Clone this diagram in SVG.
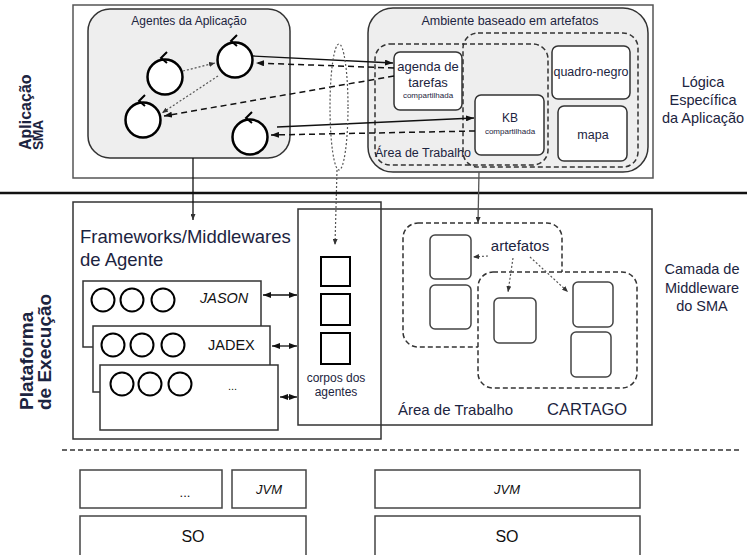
<svg xmlns="http://www.w3.org/2000/svg" width="747" height="555" viewBox="0 0 747 555">
<defs>
<marker id="ah" markerWidth="8" markerHeight="6" refX="8" refY="3" orient="auto" markerUnits="userSpaceOnUse"><path d="M0,0 L8,3 L0,6 z" fill="#111"/></marker>
<marker id="ah2" markerWidth="8" markerHeight="6" refX="8" refY="3" orient="auto-start-reverse" markerUnits="userSpaceOnUse"><path d="M0,0 L8,3 L0,6 z" fill="#111"/></marker>
<marker id="ahg" markerWidth="6" markerHeight="5" refX="6" refY="2.5" orient="auto" markerUnits="userSpaceOnUse"><path d="M0,0 L6,2.5 L0,5 z" fill="#333"/></marker>
</defs>
<style>
.t{font-family:"Liberation Sans",Arial,sans-serif;fill:#1c2440}
.k{fill:#111}
.c{text-anchor:middle}
.b{font-weight:bold}
.i{font-style:italic}
.box{fill:#fff;stroke:#333;stroke-width:1.5}
.frame{fill:none;stroke:#333;stroke-width:1.5}
.grp{fill:#eee;stroke:#333;stroke-width:1.5}
.dash{fill:none;stroke:#333;stroke-width:1.5;stroke-dasharray:5 3}
.ag{fill:#fff;stroke:#000;stroke-width:2.5}
.chev{fill:none;stroke:#000;stroke-width:2}
.sm{fill:#fff;stroke:#000;stroke-width:2}
.art{fill:#fff;stroke:#444;stroke-width:1.5}
.sol{stroke:#111;stroke-width:1.3;fill:none}
.dsh{stroke:#111;stroke-width:1.5;stroke-dasharray:6 4;fill:none}
.dot{stroke:#555;stroke-width:1.2;stroke-dasharray:2 2;fill:none}
.base{fill:#fff;stroke:#444;stroke-width:1.5}
</style>

<!-- layer separators -->
<line x1="0" y1="193" x2="747" y2="193" stroke="#111" stroke-width="2.5"/>
<line x1="62" y1="450" x2="740" y2="450" stroke="#333" stroke-width="1.5" stroke-dasharray="5 3"/>

<!-- side labels -->
<g id="lbl-aplicacao">
<text class="t b" font-size="16" transform="translate(31,150) rotate(-90)">Aplicação</text>
<text class="t b" font-size="14" letter-spacing="-0.5" transform="translate(43,150) rotate(-90)">SMA</text>
</g>
<g id="lbl-plataforma">
<text class="t b" font-size="19" transform="translate(33,410) rotate(-90)">Plataforma</text>
<text class="t b" font-size="19" transform="translate(51,410) rotate(-90)">de Execução</text>
</g>
<g id="lbl-logica">
<text class="t c" font-size="14.5" x="703" y="87">Lógica</text>
<text class="t c" font-size="14.5" x="703" y="105">Específica</text>
<text class="t c" font-size="14.5" x="703" y="123">da Aplicação</text>
</g>
<g id="lbl-camada">
<text class="t c" font-size="14.5" x="702" y="274">Camada de</text>
<text class="t c" font-size="14.5" x="702" y="293">Middleware</text>
<text class="t c" font-size="14.5" x="702" y="311">do SMA</text>
</g>

<!-- top application layer -->
<rect id="app-layer" x="73" y="5" width="580" height="173" fill="#fff" stroke="#555" stroke-width="1.5"/>

<g id="agentes">
<rect class="grp" x="88" y="9" width="202" height="149" rx="22"/>
<text class="t c" font-size="12" x="189" y="25">Agentes da Aplicação</text>
<circle class="ag" cx="165" cy="77" r="17.5"/>
<path class="chev" d="M167,52 L161,58 L167,63"/>
<circle class="ag" cx="235" cy="60" r="17.5"/>
<path class="chev" d="M237,35 L231,41 L237,46"/>
<circle class="ag" cx="143" cy="120" r="17.5"/>
<path class="chev" d="M145,95 L139,101 L145,106"/>
<circle class="ag" cx="250" cy="137" r="17.5"/>
<path class="chev" d="M252,112 L246,118 L252,123"/>
</g>

<g id="ambiente">
<rect class="grp" x="368" y="8" width="280" height="164" rx="25"/>
<text class="t c" font-size="12.5" x="510" y="25">Ambiente baseado em artefatos</text>
<rect class="dash" x="375" y="44" width="173" height="121" rx="15"/>
<rect class="dash" x="463" y="33" width="175" height="134" rx="15"/>
<text class="t" font-size="12.5" x="375" y="157">Área de Trabalho</text>
</g>
<g id="agenda">
<rect class="box" x="394" y="52" width="68" height="58" rx="6"/>
<text class="t c" font-size="13" x="428" y="71">agenda de</text>
<text class="t c" font-size="13" x="428" y="87">tarefas</text>
<text class="t c" font-size="8" x="428" y="98">compartilhada</text>
</g>
<g id="kb">
<rect class="box" x="475" y="95" width="69" height="60" rx="6"/>
<text class="t c" font-size="12" x="510" y="122">KB</text>
<text class="t c" font-size="8" x="510" y="134">compartilhada</text>
</g>
<g id="quadro">
<rect class="box" x="552" y="46" width="78" height="53" rx="6"/>
<text class="t c" font-size="12.5" x="591" y="76">quadro-negro</text>
</g>
<g id="mapa">
<rect class="box" x="558" y="106" width="69" height="55" rx="6"/>
<text class="t c" font-size="12.5" x="593" y="139">mapa</text>
</g>

<!-- middleware layer -->
<g id="cartago">
<rect class="frame" x="298" y="209" width="354" height="216"/>
<rect class="dash" x="403" y="223" width="159" height="124" rx="15"/>
<rect class="art" x="430" y="235" width="41" height="44" rx="5"/>
<rect class="art" x="430" y="285" width="41" height="44" rx="5"/>
<rect x="478" y="272" width="159" height="116" rx="15" fill="#fff" stroke="#333" stroke-width="1.5" stroke-dasharray="5 3"/>
<rect class="art" x="494" y="298" width="42" height="45" rx="5"/>
<rect class="art" x="573" y="282" width="40" height="45" rx="5"/>
<rect class="art" x="571" y="332" width="40" height="45" rx="5"/>
<text class="t c" font-size="15" x="520" y="251">artefatos</text>
<text class="t" font-size="15" x="398" y="415">Área de Trabalho</text>
<text class="t" font-size="16.5" x="547" y="415">CARTAGO</text>
</g>

<g id="frameworks">
<rect class="frame" x="73" y="202" width="308" height="237"/>
<text class="t" font-size="18.5" x="80" y="243">Frameworks/Middlewares</text>
<text class="t" font-size="18.5" x="80" y="266">de Agente</text>
</g>
<g id="jason">
<rect class="box" x="83" y="281" width="178" height="66"/>
<circle class="sm" cx="103" cy="300" r="11.5"/><circle class="sm" cx="132" cy="300" r="11.5"/><circle class="sm" cx="163" cy="300" r="11.5"/>
<text class="t k i" font-size="14.5" x="200" y="303">JASON</text>
</g>
<g id="jadex">
<rect class="box" x="93" y="326" width="177" height="66"/>
<circle class="sm" cx="113" cy="345" r="11.5"/><circle class="sm" cx="142" cy="345" r="11.5"/><circle class="sm" cx="173" cy="345" r="11.5"/>
<text class="t k" font-size="14.5" x="208" y="350">JADEX</text>
</g>
<g id="outros">
<rect class="box" x="100" y="365" width="178" height="65"/>
<circle class="sm" cx="122" cy="384" r="11.5"/><circle class="sm" cx="150" cy="384" r="11.5"/><circle class="sm" cx="180" cy="384" r="11.5"/>
<text class="t k" font-size="11" x="228" y="390">...</text>
</g>
<g id="corpos">
<rect class="sm" x="321" y="257" width="29" height="29"/>
<rect class="sm" x="321" y="294" width="29" height="31"/>
<rect class="sm" x="321" y="333" width="29" height="31"/>
<text class="t c" font-size="12" x="336" y="382">corpos dos</text>
<text class="t c" font-size="12" x="336" y="396">agentes</text>
</g>

<!-- base layer -->
<g id="base-left">
<rect class="base" x="80" y="470" width="142" height="38"/>
<text class="t k c" font-size="13" x="185" y="497">...</text>
<rect class="base" x="232" y="470" width="74" height="38"/>
<text class="t k c i" font-size="13" x="269" y="494">JVM</text>
<rect class="base" x="80" y="516" width="226" height="42"/>
<text class="t k c" font-size="16" x="193" y="542">SO</text>
</g>
<g id="base-right">
<rect class="base" x="375" y="470" width="265" height="38"/>
<text class="t k c i" font-size="13" x="507" y="494">JVM</text>
<rect class="base" x="375" y="516" width="265" height="42"/>
<text class="t k c" font-size="16" x="507" y="542">SO</text>
</g>

<!-- connectors -->
<g id="connectors">
<line class="dot" x1="183" y1="71" x2="215" y2="63" marker-end="url(#ahg)"/>
<line class="dot" x1="218" y1="76" x2="162" y2="113" marker-end="url(#ahg)"/>
<line class="sol" x1="253" y1="56" x2="393" y2="63" marker-end="url(#ah)"/>
<line class="dsh" x1="394" y1="68" x2="256" y2="63" marker-end="url(#ah)"/>
<line class="dsh" x1="394" y1="76" x2="164" y2="116" marker-end="url(#ah)"/>
<line class="sol" x1="277" y1="127" x2="474" y2="118" marker-end="url(#ah)"/>
<line class="dsh" x1="475" y1="131" x2="271" y2="135" marker-end="url(#ah)"/>
<ellipse class="dot" cx="339" cy="107" rx="9" ry="63"/>
<line class="dot" x1="337" y1="170" x2="335" y2="245" marker-end="url(#ahg)"/>
<line class="sol" x1="193" y1="158" x2="193" y2="220" marker-end="url(#ahg)"/>
<line stroke="#555" stroke-width="1.3" x1="479" y1="172" x2="478" y2="223" marker-end="url(#ahg)"/>
<line class="sol" x1="263" y1="295" x2="297" y2="295" marker-start="url(#ah2)" marker-end="url(#ah2)"/>
<line class="sol" x1="272" y1="346" x2="297" y2="346" marker-start="url(#ah2)" marker-end="url(#ah2)"/>
<line class="sol" x1="280" y1="397" x2="297" y2="397" marker-start="url(#ah2)" marker-end="url(#ah2)"/>
<line class="dot" x1="488" y1="256" x2="473" y2="257" marker-end="url(#ahg)"/>
<line class="dot" x1="513" y1="258" x2="508" y2="292" marker-end="url(#ahg)"/>
<line class="dot" x1="530" y1="257" x2="568" y2="292" marker-end="url(#ahg)"/>
</g>
</svg>
